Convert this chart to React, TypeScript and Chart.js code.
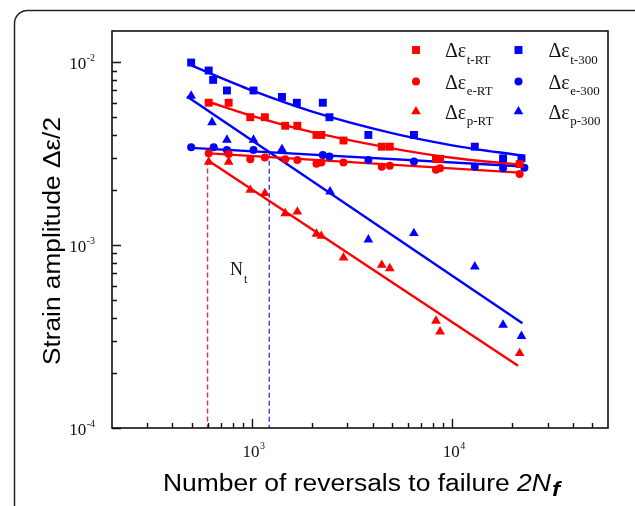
import React, { useEffect, useRef } from "react";
import { Chart, registerables } from "chart.js";
Chart.register(...registerables);

const RED = "#ff0000";
const BLUE = "#0000ff";

// Room temperature specimens (reversals to failure 2Nf)
const rtReversals = [608, 765, 981, 1160, 1466, 1685, 2100, 2220, 2865, 4448, 4880, 8300, 8700, 21720];
const rtTotal = [0.006, 0.006, 0.005, 0.005, 0.00449, 0.00449, 0.004, 0.004, 0.00373, 0.00345, 0.00345, 0.00296, 0.00296, 0.00277];
const rtElastic = [0.00318, 0.00315, 0.00295, 0.00301, 0.00295, 0.00292, 0.00278, 0.00283, 0.00283, 0.00268, 0.00271, 0.00258, 0.00263, 0.00245];
const rtPlastic = [0.00285, 0.00285, 0.002, 0.00192, 0.00149, 0.00152, 0.00115, 0.00112, 0.000853, 0.000778, 0.000746, 0.000385, 0.000336, 0.000256];

// 300 °C specimens
const htTotalReversals = [497, 608, 640, 750, 1018, 1412, 1676, 2259, 2438, 3814, 6440, 12970, 17950, 22180];
const htTotal = [0.00995, 0.009, 0.008, 0.007, 0.007, 0.00645, 0.006, 0.006, 0.005, 0.004, 0.004, 0.00345, 0.00298, 0.00298];
const htElasticReversals = [497, 644, 750, 1018, 2259, 2438, 3814, 6440, 12970, 17950, 22940];
const htElastic = [0.00343, 0.00343, 0.00331, 0.00331, 0.00311, 0.00305, 0.00292, 0.00286, 0.00268, 0.00263, 0.00265];
const htPlasticReversals = [497, 632, 750, 1018, 1412, 2455, 3814, 6440, 12970, 17950, 22180];
const htPlastic = [0.00654, 0.00468, 0.00376, 0.00376, 0.00334, 0.00196, 0.00107, 0.00116, 0.000762, 0.000366, 0.000318];

// Fitted curves
const fitRtTotalN = [585, 1000, 2000, 5000, 10000, 21720];
const fitRtTotal = [0.00615, 0.00508, 0.00414, 0.00338, 0.003, 0.00275];
const fitRtElasticN = [585, 21720];
const fitRtElastic = [0.00318, 0.00249];
const fitRtPlasticN = [615, 21330];
const fitRtPlastic = [0.00286, 0.000219];
const fitHtTotalN = [497, 1000, 2000, 5000, 10000, 22940];
const fitHtTotal = [0.0096, 0.007, 0.00536, 0.00409, 0.00351, 0.00307];
const fitHtElasticN = [497, 22940];
const fitHtElastic = [0.0034, 0.00269];
const fitHtPlasticN = [474, 22440];
const fitHtPlastic = [0.00648, 0.000374];

// Transition lives
const transitionN = [600, 1220];
const transitionTop = [0.0029, 0.0032];

// Axes
const xMin = 200;
const xMax = 60000;
const yMin = 1e-4;
const yMax = 0.0148;
const xMajor = [1000, 10000];
const xMajorExp = ["3", "4"];
const yMajor = [1e-4, 1e-3, 1e-2];
const yMajorExp = ["-4", "-3", "-2"];

const legendItems = [
  { sub: "t-RT", color: RED, style: "rect", col: 0, row: 0 },
  { sub: "e-RT", color: RED, style: "circle", col: 0, row: 1 },
  { sub: "p-RT", color: RED, style: "triangle", col: 0, row: 2 },
  { sub: "t-300", color: BLUE, style: "rect", col: 1, row: 0 },
  { sub: "e-300", color: BLUE, style: "circle", col: 1, row: 1 },
  { sub: "p-300", color: BLUE, style: "triangle", col: 1, row: 2 },
];

const SERIF = '"Liberation Serif", "Times New Roman", serif';
const SANS = '"Liberation Sans", Arial, sans-serif';

const pts = (xs: number[], ys: number[]) => xs.map((x, i) => ({ x, y: ys[i] }));

function marker(ctx: CanvasRenderingContext2D, style: string, x: number, y: number, r: number, color: string) {
  ctx.fillStyle = color;
  ctx.beginPath();
  if (style === "rect") {
    const s = Math.SQRT1_2 * r;
    ctx.rect(x - s, y - s, 2 * s, 2 * s);
  } else if (style === "circle") {
    ctx.arc(x, y, r, 0, Math.PI * 2);
  } else {
    ctx.moveTo(x, y - r);
    ctx.lineTo(x + Math.sin((2 * Math.PI) / 3) * r, y + r / 2);
    ctx.lineTo(x - Math.sin((2 * Math.PI) / 3) * r, y + r / 2);
    ctx.closePath();
  }
  ctx.fill();
}

const decor = {
  id: "decor",
  afterDraw(chart: any) {
    const ctx: CanvasRenderingContext2D = chart.ctx;
    const xs = chart.scales.x;
    const ys = chart.scales.y;
    const { left, right, top, bottom } = chart.chartArea;
    ctx.save();

    // outer rounded frame
    ctx.strokeStyle = "#222";
    ctx.lineWidth = 1.5;
    ctx.beginPath();
    const fx = 14.5, fy = 10.5, fw = 640, fh = 540, fr = 13;
    ctx.moveTo(fx + fr, fy);
    ctx.lineTo(fx + fw, fy);
    ctx.moveTo(fx, fy + fh);
    ctx.lineTo(fx, fy + fr);
    ctx.arcTo(fx, fy, fx + fr, fy, fr);
    ctx.stroke();

    // plot box
    ctx.strokeStyle = "#111";
    ctx.lineWidth = 1.6;
    ctx.strokeRect(left, top, right - left, bottom - top);

    // ticks
    ctx.lineWidth = 1.4;
    ctx.beginPath();
    for (let d = 2; d <= 4; d++) {
      for (let k = 1; k <= 9; k++) {
        const v = k * Math.pow(10, d);
        if (v <= xMin || v >= xMax) continue;
        const px = Math.round(xs.getPixelForValue(v)) + 0.5;
        const len = k === 1 ? 9 : 5;
        ctx.moveTo(px, bottom);
        ctx.lineTo(px, bottom - len);
      }
    }
    for (let d = -4; d <= -2; d++) {
      for (let k = 1; k <= 9; k++) {
        const v = k * Math.pow(10, d);
        if (v <= yMin * 0.999 || v >= yMax) continue;
        const py = Math.round(ys.getPixelForValue(v)) + 0.5;
        const len = k === 1 ? 9 : 5;
        ctx.moveTo(left, py);
        ctx.lineTo(left + len, py);
      }
    }
    ctx.stroke();

    // tick labels
    ctx.fillStyle = "#111";
    ctx.textBaseline = "alphabetic";
    yMajor.forEach((v, i) => {
      const py = ys.getPixelForValue(v);
      ctx.font = `10px ${SERIF}`;
      const ew = ctx.measureText(yMajorExp[i]).width;
      ctx.textAlign = "right";
      ctx.fillText(yMajorExp[i], 95, py - 1);
      ctx.font = `17px ${SERIF}`;
      ctx.fillText("10", 95 - ew - 0.5, py + 7);
    });
    xMajor.forEach((v, i) => {
      const px = xs.getPixelForValue(v);
      ctx.font = `17px ${SERIF}`;
      ctx.textAlign = "center";
      ctx.fillText("10", px - 1, 457);
      const w = ctx.measureText("10").width;
      ctx.font = `10px ${SERIF}`;
      ctx.textAlign = "left";
      ctx.fillText(xMajorExp[i], px - 1 + w / 2 + 0.5, 449);
    });

    // y title
    ctx.save();
    ctx.translate(60, 241);
    ctx.rotate(-Math.PI / 2);
    ctx.font = `23px ${SANS}`;
    const yt = "Strain amplitude \u0394\u03b5/2";
    const ytw = ctx.measureText(yt).width;
    ctx.scale(248 / ytw, 1);
    ctx.textAlign = "center";
    ctx.fillStyle = "#000";
    ctx.fillText(yt, 0, 0);
    ctx.restore();

    // x title
    ctx.save();
    const p1 = "Number of reversals to failure ";
    const p2 = "2N";
    const p3 = "f";
    ctx.font = `23px ${SANS}`;
    const w1 = ctx.measureText(p1).width;
    ctx.font = `italic 23px ${SANS}`;
    const w2 = ctx.measureText(p2).width;
    ctx.font = `italic bold 21px ${SANS}`;
    const w3 = ctx.measureText(p3).width;
    const s = 397 / (w1 + w2 + w3 + 1);
    ctx.translate(163, 491);
    ctx.scale(s, 1);
    ctx.textAlign = "left";
    ctx.fillStyle = "#000";
    ctx.font = `23px ${SANS}`;
    ctx.fillText(p1, 0, 0);
    ctx.font = `italic 23px ${SANS}`;
    ctx.fillText(p2, w1, 0);
    ctx.font = `italic bold 21px ${SANS}`;
    ctx.fillText(p3, w1 + w2 + 1, 5);
    ctx.restore();

    // legend
    const rowsY = [50, 81.5, 111.5];
    const markX = [416, 518.5];
    const textX = [445, 548.5];
    legendItems.forEach((it) => {
      const y = rowsY[it.row];
      marker(ctx, it.style, markX[it.col], y, it.style === "circle" ? 4 : 5.6, it.color);
      ctx.fillStyle = "#111";
      ctx.textAlign = "left";
      ctx.font = `20px ${SERIF}`;
      ctx.fillText("\u0394\u03b5", textX[it.col], y + 7);
      const w = ctx.measureText("\u0394\u03b5").width;
      ctx.font = `13px ${SERIF}`;
      ctx.fillText(it.sub, textX[it.col] + w + 0.5, y + 13.5);
    });

    // N_t label
    ctx.fillStyle = "#111";
    ctx.font = `18px ${SERIF}`;
    ctx.textAlign = "left";
    ctx.fillText("N", 230, 275);
    const nw = ctx.measureText("N").width;
    ctx.font = `12px ${SERIF}`;
    ctx.fillText("t", 230 + nw + 1, 283);

    ctx.restore();
  },
};

export default function App() {
  const ref = useRef<HTMLCanvasElement>(null);
  useEffect(() => {
    const canvas = ref.current!;
    const pointSet = (label: string, data: any[], color: string, style: string, r: number) => ({
      label,
      data,
      showLine: false,
      pointStyle: style,
      pointRadius: r,
      pointBackgroundColor: color,
      pointBorderColor: color,
      pointBorderWidth: 0,
    });
    const lineSet = (label: string, data: any[], color: string, curved: boolean) => ({
      label,
      data,
      showLine: true,
      borderColor: color,
      borderWidth: 2.4,
      pointRadius: 0,
      tension: curved ? 0.4 : 0,
      cubicInterpolationMode: curved ? "monotone" : "default",
      fill: false,
    });
    const dashSet = (label: string, n: number, topV: number, color: string) => ({
      label,
      data: [
        { x: n, y: topV },
        { x: n, y: yMin },
      ],
      showLine: true,
      borderColor: color,
      borderWidth: 1.4,
      borderDash: [5, 3],
      pointRadius: 0,
      fill: false,
    });
    const chart = new Chart(canvas, {
      type: "scatter",
      data: {
        datasets: [
          pointSet("t-RT", pts(rtReversals, rtTotal), RED, "rect", 5.6),
          pointSet("e-RT", pts(rtReversals, rtElastic), RED, "circle", 4),
          pointSet("p-RT", pts(rtReversals, rtPlastic), RED, "triangle", 5.6),
          pointSet("t-300", pts(htTotalReversals, htTotal), BLUE, "rect", 5.6),
          pointSet("e-300", pts(htElasticReversals, htElastic), BLUE, "circle", 4),
          pointSet("p-300", pts(htPlasticReversals, htPlastic), BLUE, "triangle", 5.6),
          lineSet("fit t-RT", pts(fitRtTotalN, fitRtTotal), RED, true),
          lineSet("fit e-RT", pts(fitRtElasticN, fitRtElastic), RED, false),
          lineSet("fit p-RT", pts(fitRtPlasticN, fitRtPlastic), RED, false),
          lineSet("fit t-300", pts(fitHtTotalN, fitHtTotal), BLUE, true),
          lineSet("fit e-300", pts(fitHtElasticN, fitHtElastic), BLUE, false),
          lineSet("fit p-300", pts(fitHtPlasticN, fitHtPlastic), BLUE, false),
          dashSet("Nt RT", transitionN[0], transitionTop[0], "#ee3030"),
          dashSet("Nt 300", transitionN[1], transitionTop[1], "#3c3cff"),
        ] as any,
      },
      options: {
        responsive: false,
        animation: false,
        devicePixelRatio: 1,
        layout: { padding: { left: 112, top: 31, right: 27, bottom: 78 } },
        plugins: { legend: { display: false }, tooltip: { enabled: false } },
        scales: {
          x: { type: "logarithmic", min: xMin, max: xMax, display: false },
          y: { type: "logarithmic", min: yMin, max: yMax, display: false },
        },
      } as any,
      plugins: [decor],
    });
    return () => chart.destroy();
  }, []);
  return (
    <div style={{ position: "absolute", left: 0, top: 0, width: 635, height: 506, background: "#fff" }}>
      <canvas ref={ref} width={635} height={506} style={{ display: "block" }} />
    </div>
  );
}
